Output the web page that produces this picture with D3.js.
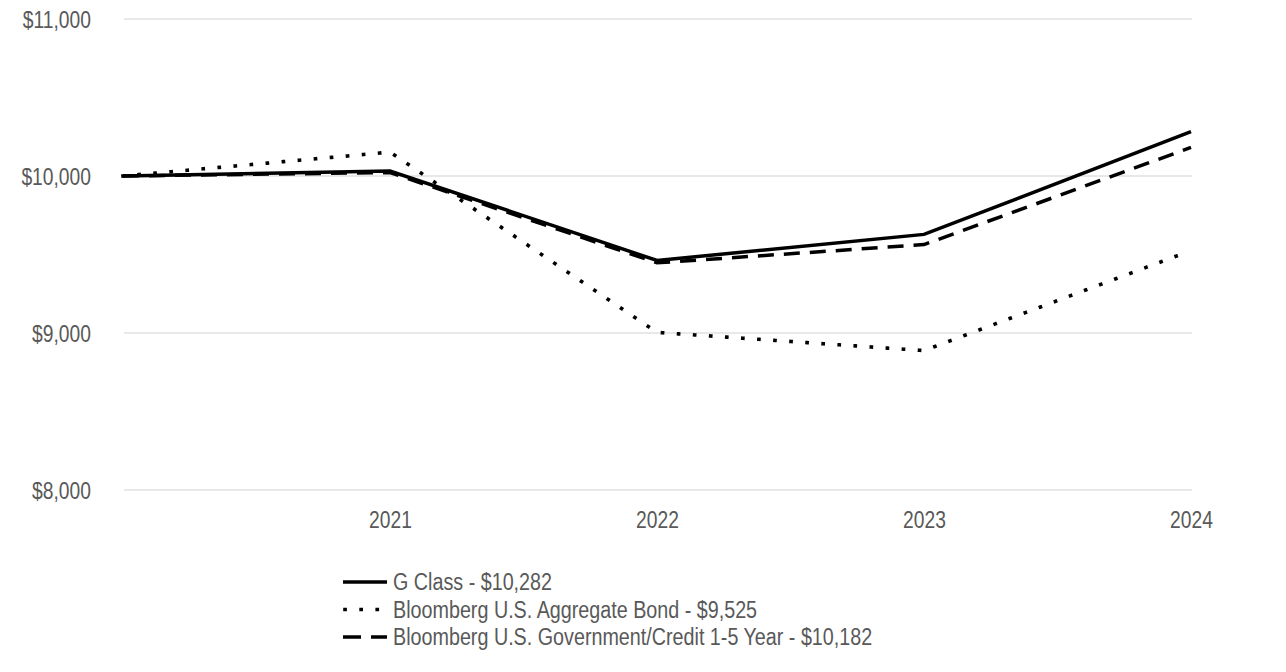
<!DOCTYPE html>
<html><head><meta charset="utf-8">
<script src="https://cdn.jsdelivr.net/npm/d3@7"></script>
<style>
body{margin:0;background:#fff;}
text{font-family:"Liberation Sans",Arial,sans-serif;fill:#595959;}
</style></head><body>
<svg id="c" width="1286" height="672"></svg>
<script>
const periods = ["2020", "2021", "2022", "2023", "2024"];
const xTickLabels = ["", "2021", "2022", "2023", "2024"];
const gClass = [10000, 10032, 9462, 9628, 10282];
const aggBond = [10000, 10152, 9004, 8888, 9525];
const govCredit = [10000, 10022, 9447, 9563, 10182];
const yTicks = [8000, 9000, 10000, 11000];
const seriesNames = ["G Class - $10,282", "Bloomberg U.S. Aggregate Bond - $9,525", "Bloomberg U.S. Government/Credit 1-5 Year - $10,182"];

const series = [
  {name: seriesNames[0], values: gClass, dash: null, cap: "butt"},
  {name: seriesNames[1], values: aggBond, dash: "0.1,16", cap: "square"},
  {name: seriesNames[2], values: govCredit, dash: "16,10", cap: "butt"}
];

const FS = 23.5, SX = 0.82, SXL = 0.84;
const svg = d3.select("#c");
const x = d3.scaleLinear().domain([0, periods.length - 1]).range([123, 1191]);
const y = d3.scaleLinear().domain([8000, 11000]).range([490, 19]);

// gridlines
svg.append("g").selectAll("line").data(yTicks).join("line")
  .attr("x1", 124).attr("x2", 1192)
  .attr("y1", d => y(d)).attr("y2", d => y(d))
  .attr("stroke", "#e0e0e0").attr("stroke-width", 1.3);

// y axis labels
const yAxis = d3.axisLeft(y).tickValues(yTicks).tickSize(0).tickPadding(0)
  .tickFormat(d => "$" + d3.format(",")(d));
const gy = svg.append("g").attr("transform", "translate(91,0)").call(yAxis);
gy.select(".domain").remove();
gy.selectAll("text").attr("font-size", FS).attr("fill", "#595959").attr("dy", "0.36em")
  .attr("transform", `scale(${SX},1)`)
  .style("font-family", "'Liberation Sans',Arial,sans-serif");

// x axis labels
const xAxis = d3.axisBottom(x).tickValues(d3.range(periods.length)).tickSize(0).tickPadding(0)
  .tickFormat(i => xTickLabels[i]);
const gx = svg.append("g").attr("transform", "translate(0,520)").call(xAxis);
gx.select(".domain").remove();
gx.selectAll("text").attr("font-size", FS).attr("fill", "#595959").attr("dy", "0.36em")
  .attr("transform", `scale(${SX},1)`)
  .style("font-family", "'Liberation Sans',Arial,sans-serif");

const line = d3.line().x((d, i) => x(i)).y(d => y(d));

series.slice().reverse().forEach(s => {
  svg.append("path").datum(s.values)
    .attr("d", line)
    .attr("fill", "none").attr("stroke", "#000")
    .attr("stroke-width", s.cap === "square" ? 3.6 : 3.5)
    .attr("stroke-linecap", s.cap)
    .attr("stroke-linejoin", "miter")
    .attr("stroke-dasharray", s.dash);
});

// legend
const lg = svg.append("g");
series.forEach((s, i) => {
  const yy = 582 + i * 27.5;
  if (s.cap === "square") {
    lg.append("line").attr("x1", 345).attr("x2", 387).attr("y1", yy).attr("y2", yy)
      .attr("stroke", "#000").attr("stroke-width", 3.6).attr("stroke-linecap", "square")
      .attr("stroke-dasharray", "0.1,16");
  } else if (s.dash) {
    lg.append("line").attr("x1", 343).attr("x2", 387).attr("y1", yy).attr("y2", yy)
      .attr("stroke", "#000").attr("stroke-width", 3.5).attr("stroke-dasharray", "18,10");
  } else {
    lg.append("line").attr("x1", 343).attr("x2", 387).attr("y1", yy).attr("y2", yy)
      .attr("stroke", "#000").attr("stroke-width", 3.5);
  }
  lg.append("text").attr("transform", `translate(393,${yy}) scale(${SXL},1)`)
    .attr("dy", "0.36em").attr("font-size", FS).text(s.name);
});
</script></body></html>
